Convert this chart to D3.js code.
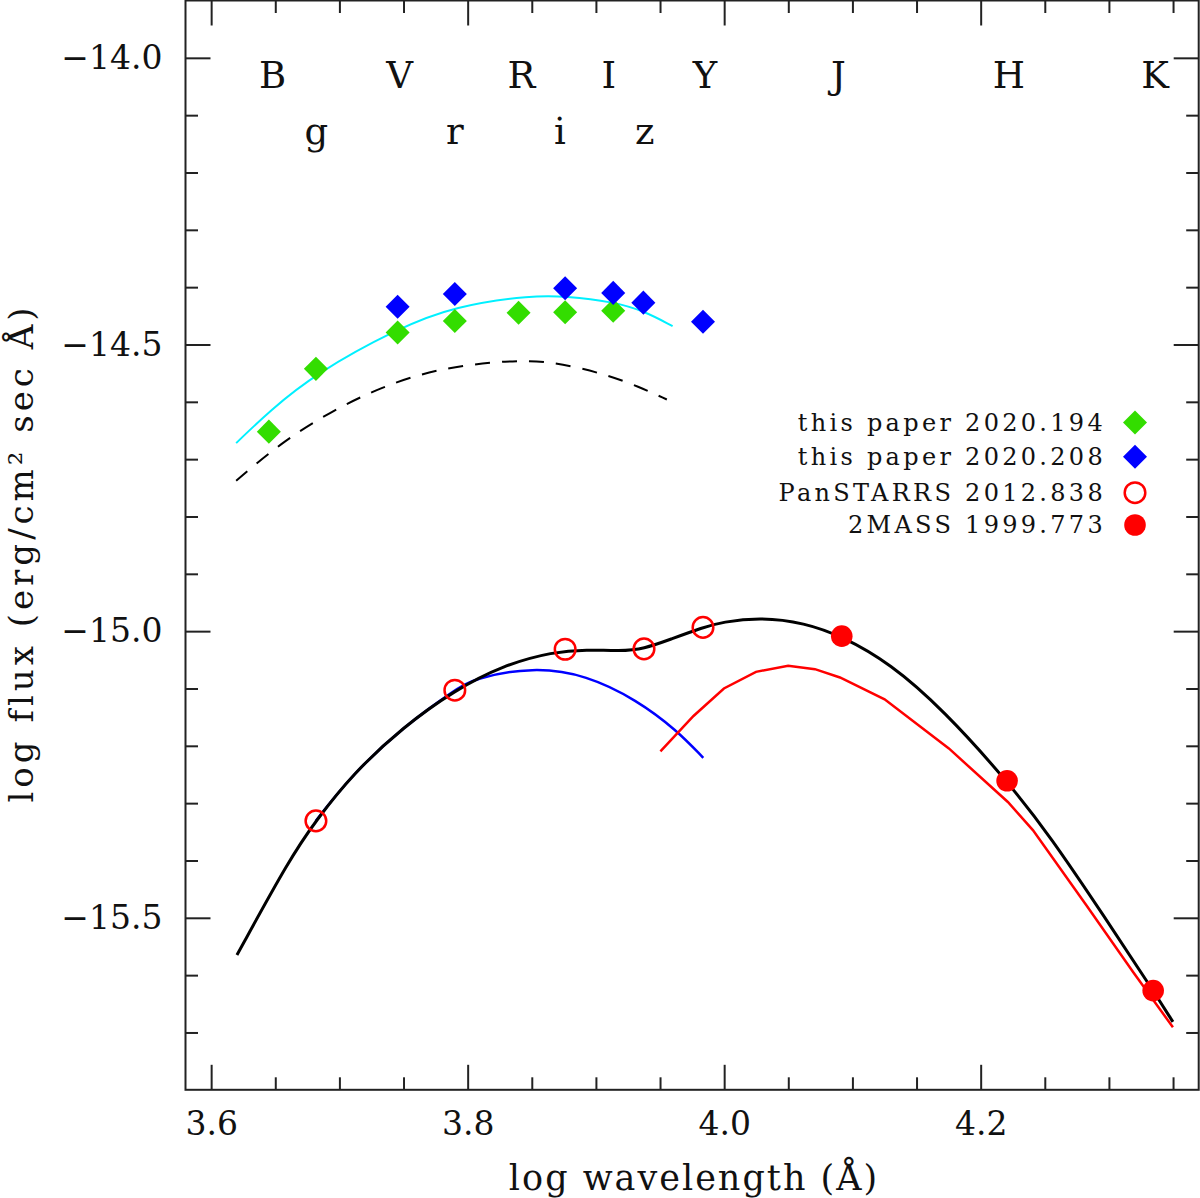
<!DOCTYPE html>
<html>
<head>
<meta charset="utf-8">
<script src="https://cdn.jsdelivr.net/npm/d3@7"></script>
<style>
  body { margin: 0; background: #fff; }
  text { font-family: "DejaVu Serif", serif; fill: #111; }
</style>
</head>
<body>
<script>
// photometry (log lambda, log flux)
var greenX = [3.645, 3.6817, 3.7454, 3.790, 3.8397, 3.876, 3.9135];
var greenY = [-14.652, -14.5425, -14.479, -14.459, -14.4448, -14.4436, -14.4413];
var blueX = [3.7454, 3.790, 3.876, 3.9135, 3.937, 3.9835];
var blueY = [-14.4343, -14.412, -14.402, -14.41, -14.427, -14.4605];
var psX = [3.6817, 3.790, 3.876, 3.9375, 3.9835];
var psY = [-15.331, -15.103, -15.0316, -15.031, -14.9935];
var tmX = [4.0917, 4.2206, 4.3345];
var tmY = [-15.0087, -15.261, -15.627];

// model curves
var cyanX = [3.6195, 3.646, 3.6815, 3.7454, 3.790, 3.851, 3.876, 3.9135, 3.937, 3.9598];
var cyanY = [-14.672, -14.615, -14.5505, -14.472, -14.433, -14.414, -14.4157, -14.4256, -14.441, -14.468];
var dashX = [3.6195, 3.6537, 3.6927, 3.7316, 3.7758, 3.833, 3.8667, 3.9057, 3.934, 3.9553];
var dashY = [-14.7378, -14.6726, -14.6175, -14.575, -14.5418, -14.527, -14.530, -14.5505, -14.574, -14.596];
var totX = [3.6201, 3.6614, 3.6815, 3.7108, 3.7498, 3.7899, 3.8278, 3.8667, 3.8928, 3.9188, 3.9375, 3.9578, 3.9835, 3.9983, 4.029, 4.0625, 4.0917, 4.1293, 4.1711, 4.2206, 4.2546, 4.2964, 4.3345, 4.3499];
var totY = [-15.565, -15.3965, -15.331, -15.248, -15.167, -15.103, -15.0593, -15.036, -15.032, -15.035, -15.031, -15.0145, -14.9935, -14.984, -14.976, -14.9855, -15.0087, -15.056, -15.138, -15.261, -15.359, -15.498, -15.627, -15.6815];
var hotX = [3.6815, 3.7108, 3.7498, 3.7899, 3.8044, 3.8512, 3.8928, 3.9318, 3.963, 3.9837];
var hotY = [-15.331, -15.248, -15.167, -15.103, -15.0825, -15.0623, -15.0767, -15.120, -15.1727, -15.221];
var coolX = [3.9503, 3.9761, 3.9998, 4.0248, 4.0499, 4.0708, 4.0903, 4.1251, 4.1752, 4.2212, 4.2407, 4.2824, 4.3187, 4.3499];
var coolY = [-15.2097, -15.148, -15.100, -15.071, -15.0605, -15.0663, -15.0808, -15.119, -15.2046, -15.298, -15.347, -15.478, -15.594, -15.691];

// filter names along the top
var bandTop = ["B", "V", "R", "I", "Y", "J", "H", "K"];
var bandTopX = [3.648, 3.747, 3.842, 3.910, 3.985, 4.089, 4.222, 4.336];
var bandLow = ["g", "r", "i", "z"];
var bandLowX = [3.682, 3.790, 3.872, 3.938];

var legendText = ["this paper 2020.194", "this paper 2020.208", "PanSTARRS 2012.838", "2MASS 1999.773"];

var xMajor = [3.6, 3.8, 4.0, 4.2];
var yMajor = [-14.0, -14.5, -15.0, -15.5];

var W = 1200, H = 1198;
var padL = 185.5, padT = 0.5, pw = 1013.2, ph = 1089.3;

var svg = d3.select("body").append("svg")
    .attr("width", W)
    .attr("height", H);

var x = d3.scaleLinear().domain([3.58, 4.37]).range([padL, padL + pw]);
var y = d3.scaleLinear().domain([-15.8, -13.9]).range([padT + ph, padT]);

var xMinor = d3.range(3.6, 4.36, 0.05).filter(function(v) {
    return xMajor.every(function(m) { return Math.abs(m - v) > 1e-6; });
});
var yMinor = d3.range(-15.7, -13.9, 0.1).filter(function(v) {
    return yMajor.every(function(m) { return Math.abs(m - v) > 1e-6; });
});

function axisGroup(axis, tx, ty) {
    var g = svg.append("g")
        .attr("transform", "translate(" + tx + "," + ty + ")")
        .call(axis);
    g.select(".domain").remove();
    g.selectAll("line").attr("stroke", "#222").attr("stroke-width", 2);
    return g;
}

var fmt = d3.format(".1f");

// bottom + top
var gb = axisGroup(d3.axisBottom(x).tickValues(xMajor).tickFormat(fmt).tickSizeInner(-25).tickSizeOuter(0).tickPadding(0), 0, padT + ph);
gb.selectAll("text").attr("font-size", 33).attr("y", 45).attr("dy", 0).attr("fill", "#111");
axisGroup(d3.axisBottom(x).tickValues(xMinor).tickFormat("").tickSizeInner(-12.5).tickSizeOuter(0), 0, padT + ph);
axisGroup(d3.axisTop(x).tickValues(xMajor).tickFormat("").tickSizeInner(-25).tickSizeOuter(0), 0, padT);
axisGroup(d3.axisTop(x).tickValues(xMinor).tickFormat("").tickSizeInner(-12.5).tickSizeOuter(0), 0, padT);

// left + right
var gl = axisGroup(d3.axisLeft(y).tickValues(yMajor).tickFormat(fmt).tickSizeInner(-25).tickSizeOuter(0).tickPadding(23), padL, 0);
gl.selectAll("text").attr("font-size", 33).attr("fill", "#111");
axisGroup(d3.axisLeft(y).tickValues(yMinor).tickFormat("").tickSizeInner(-12.5).tickSizeOuter(0), padL, 0);
axisGroup(d3.axisRight(y).tickValues(yMajor).tickFormat("").tickSizeInner(-25).tickSizeOuter(0), padL + pw, 0);
axisGroup(d3.axisRight(y).tickValues(yMinor).tickFormat("").tickSizeInner(-12.5).tickSizeOuter(0), padL + pw, 0);

svg.append("rect")
    .attr("x", padL).attr("y", padT)
    .attr("width", pw).attr("height", ph)
    .attr("fill", "none")
    .attr("stroke", "#222")
    .attr("stroke-width", 2);

// axis titles
svg.append("text")
    .attr("x", 694).attr("y", 1190)
    .attr("text-anchor", "middle")
    .attr("font-size", 35)
    .attr("letter-spacing", 2)
    .text("log wavelength (Å)");

svg.append("text")
    .attr("transform", "translate(33,553) rotate(-90)")
    .attr("text-anchor", "middle")
    .attr("font-size", 34)
    .attr("letter-spacing", 4)
    .text("log flux (erg/cm² sec Å)");

// band letters
svg.selectAll(".bandTop")
    .data(bandTop)
    .enter()
    .append("text")
    .attr("class", "bandTop")
    .attr("x", function(d, i) { return x(bandTopX[i]); })
    .attr("y", 87.5)
    .attr("text-anchor", "middle")
    .attr("font-size", 37)
    .text(function(d) { return d; });

svg.selectAll(".bandLow")
    .data(bandLow)
    .enter()
    .append("text")
    .attr("class", "bandLow")
    .attr("x", function(d, i) { return x(bandLowX[i]); })
    .attr("y", 144)
    .attr("text-anchor", "middle")
    .attr("font-size", 37)
    .text(function(d) { return d; });

function pairs(xs, ys) {
    return xs.map(function(v, i) { return [v, ys[i]]; });
}

// b-spline evens out the reading noise in the sampled curves
var smooth = d3.line()
    .x(function(d) { return x(d[0]); })
    .y(function(d) { return y(d[1]); })
    .curve(d3.curveBasis);
var straight = d3.line()
    .x(function(d) { return x(d[0]); })
    .y(function(d) { return y(d[1]); });

svg.append("path").attr("d", smooth(pairs(dashX, dashY)))
    .attr("fill", "none").attr("stroke", "#000").attr("stroke-width", 2)
    .attr("stroke-dasharray", "15,12");
svg.append("path").attr("d", smooth(pairs(hotX, hotY)))
    .attr("fill", "none").attr("stroke", "#0000ff").attr("stroke-width", 2.5);
svg.append("path").attr("d", straight(pairs(coolX, coolY)))
    .attr("fill", "none").attr("stroke", "#ff0000").attr("stroke-width", 2.5);
svg.append("path").attr("d", smooth(pairs(totX, totY)))
    .attr("fill", "none").attr("stroke", "#000").attr("stroke-width", 3);
svg.append("path").attr("d", smooth(pairs(cyanX, cyanY)))
    .attr("fill", "none").attr("stroke", "#00f0ff").attr("stroke-width", 2);

var diamond = d3.symbol().type(d3.symbolSquare).size(289);

svg.selectAll(".green")
    .data(pairs(greenX, greenY))
    .enter()
    .append("path")
    .attr("class", "green")
    .attr("d", diamond)
    .attr("transform", function(d) { return "translate(" + x(d[0]) + "," + y(d[1]) + ") rotate(45)"; })
    .attr("fill", "#33dd00");

svg.selectAll(".blue")
    .data(pairs(blueX, blueY))
    .enter()
    .append("path")
    .attr("class", "blue")
    .attr("d", diamond)
    .attr("transform", function(d) { return "translate(" + x(d[0]) + "," + y(d[1]) + ") rotate(45)"; })
    .attr("fill", "#0000ff");

svg.selectAll(".ps")
    .data(pairs(psX, psY))
    .enter()
    .append("circle")
    .attr("class", "ps")
    .attr("cx", function(d) { return x(d[0]); })
    .attr("cy", function(d) { return y(d[1]); })
    .attr("r", 10.3)
    .attr("fill", "none")
    .attr("stroke", "#ff0000")
    .attr("stroke-width", 2.5);

svg.selectAll(".tm")
    .data(pairs(tmX, tmY))
    .enter()
    .append("circle")
    .attr("class", "tm")
    .attr("cx", function(d) { return x(d[0]); })
    .attr("cy", function(d) { return y(d[1]); })
    .attr("r", 10.8)
    .attr("fill", "#ff0000");

// legend
var legY = [422.5, 456.8, 492.7, 525];
var leg = svg.append("g");
leg.selectAll("text")
    .data(legendText)
    .enter()
    .append("text")
    .attr("x", 1106)
    .attr("y", function(d, i) { return legY[i] + 8; })
    .attr("text-anchor", "end")
    .attr("font-size", 24)
    .attr("letter-spacing", 3.3)
    .attr("fill", "#333")
    .text(function(d) { return d; });

leg.append("path").attr("d", diamond)
    .attr("transform", "translate(1135," + legY[0] + ") rotate(45)").attr("fill", "#33dd00");
leg.append("path").attr("d", diamond)
    .attr("transform", "translate(1135," + legY[1] + ") rotate(45)").attr("fill", "#0000ff");
leg.append("circle").attr("cx", 1135).attr("cy", legY[2]).attr("r", 10.3)
    .attr("fill", "none").attr("stroke", "#ff0000").attr("stroke-width", 2.5);
leg.append("circle").attr("cx", 1135).attr("cy", legY[3]).attr("r", 10.8)
    .attr("fill", "#ff0000");
</script>
</body>
</html>
